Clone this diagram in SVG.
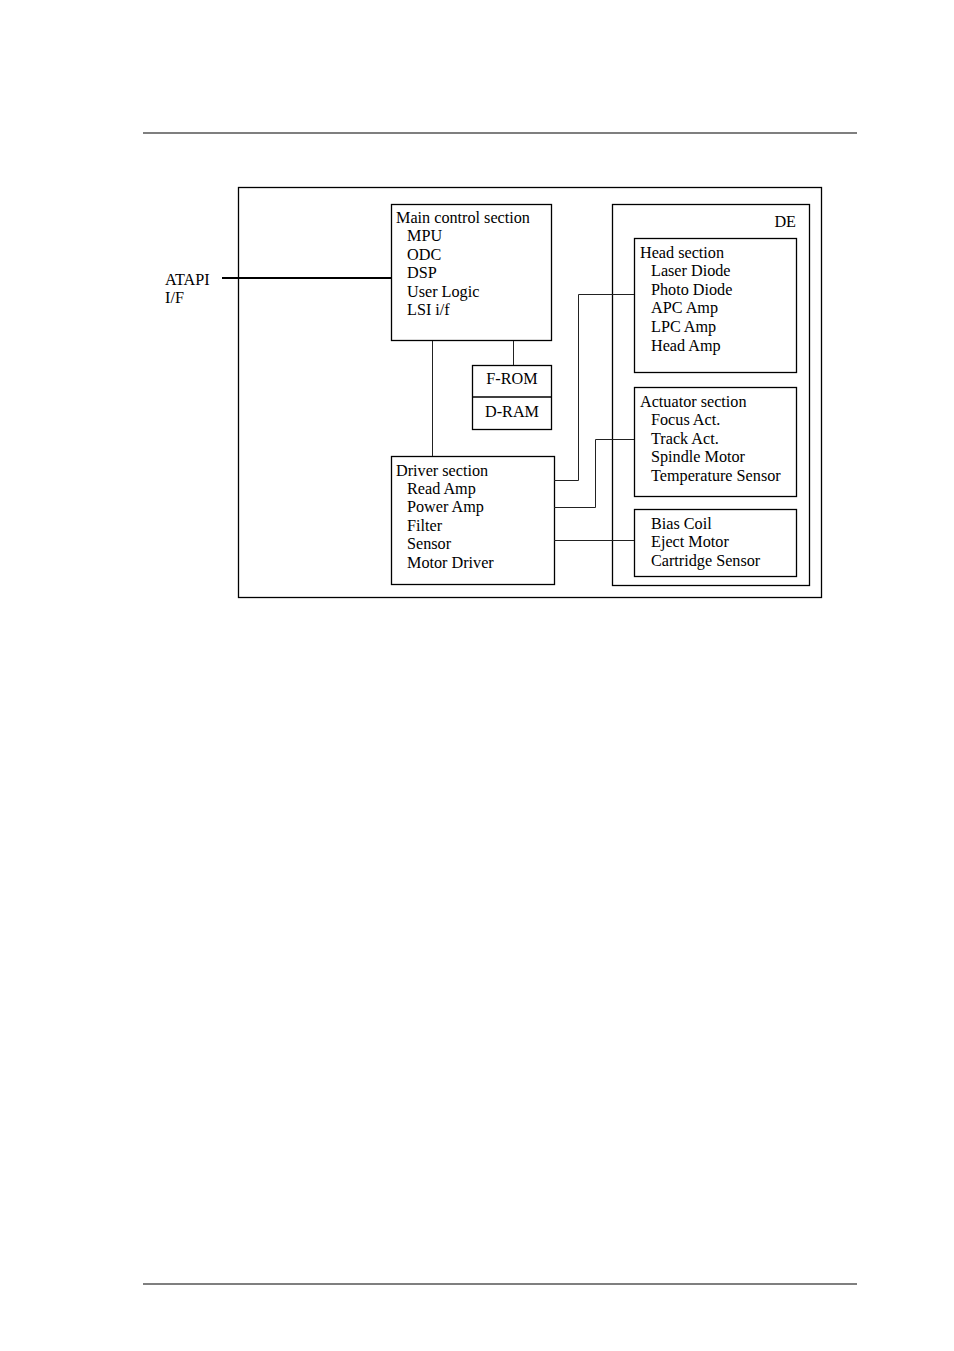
<svg xmlns="http://www.w3.org/2000/svg" width="954" height="1351" viewBox="0 0 954 1351">
<style>
text{font-family:"Liberation Serif","Times New Roman",serif;font-size:16.2px;fill:#000}
.box{fill:none;stroke:#000;stroke-width:1.3}
.rule{stroke:#000;stroke-width:1.2}
.c{fill:none;stroke:#222;stroke-width:1}
</style>
<rect width="954" height="1351" fill="#fff"/>
<line class="rule" x1="143" y1="133" x2="857" y2="133"/>
<line class="rule" x1="143" y1="1284" x2="857" y2="1284"/>
<g id="outer"><rect class="box" x="238.5" y="187.5" width="583" height="410" stroke-width="1.1"/></g>
<g id="atapi"><text x="165" y="285">ATAPI</text><text x="165" y="303">I/F</text></g>
<g id="main"><rect class="box" x="391.5" y="204.5" width="160" height="136"/>
<text x="396" y="223">Main control section</text>
<text x="407" y="241">MPU</text><text x="407" y="260">ODC</text><text x="407" y="278">DSP</text>
<text x="407" y="297">User Logic</text><text x="407" y="315">LSI i/f</text></g>
<g id="mem"><rect class="box" x="472.5" y="365.5" width="79" height="64"/>
<line class="box" x1="472.5" y1="397" x2="551.5" y2="397"/>
<text x="512" y="384" text-anchor="middle">F-ROM</text>
<text x="512" y="417" text-anchor="middle">D-RAM</text></g>
<g id="driver"><rect class="box" x="391.5" y="456.5" width="163" height="128"/>
<text x="396" y="476">Driver section</text>
<text x="407" y="494">Read Amp</text><text x="407" y="512">Power Amp</text><text x="407" y="531">Filter</text>
<text x="407" y="549">Sensor</text><text x="407" y="568">Motor Driver</text></g>
<g id="de"><rect class="box" x="612.5" y="204.5" width="197" height="381"/>
<text x="796" y="227" text-anchor="end">DE</text></g>
<g id="head"><rect class="box" x="634.5" y="238.5" width="162" height="134"/>
<text x="640" y="258">Head section</text>
<text x="651" y="276">Laser Diode</text><text x="651" y="295">Photo Diode</text><text x="651" y="313">APC Amp</text>
<text x="651" y="332">LPC Amp</text><text x="651" y="351">Head Amp</text></g>
<g id="actuator"><rect class="box" x="634.5" y="387.5" width="162" height="109"/>
<text x="640" y="407">Actuator section</text>
<text x="651" y="425">Focus Act.</text><text x="651" y="444">Track Act.</text>
<text x="651" y="462">Spindle Motor</text><text x="651" y="481">Temperature Sensor</text></g>
<g id="bias"><rect class="box" x="634.5" y="509.5" width="162" height="67"/>
<text x="651" y="529">Bias Coil</text><text x="651" y="547">Eject Motor</text><text x="651" y="566">Cartridge Sensor</text></g>
<g id="connectors">
<line x1="222" y1="278" x2="391" y2="278" stroke="#000" stroke-width="2"/>
<line class="c" x1="432.5" y1="341" x2="432.5" y2="456"/>
<line class="c" x1="513.5" y1="341" x2="513.5" y2="365"/>
<polyline class="c" points="554,480.5 578.5,480.5 578.5,294.5 634,294.5"/>
<polyline class="c" points="554,507.5 595.5,507.5 595.5,439.5 634,439.5"/>
<line class="c" x1="554" y1="540.5" x2="634" y2="540.5"/>
</g>
</svg>
